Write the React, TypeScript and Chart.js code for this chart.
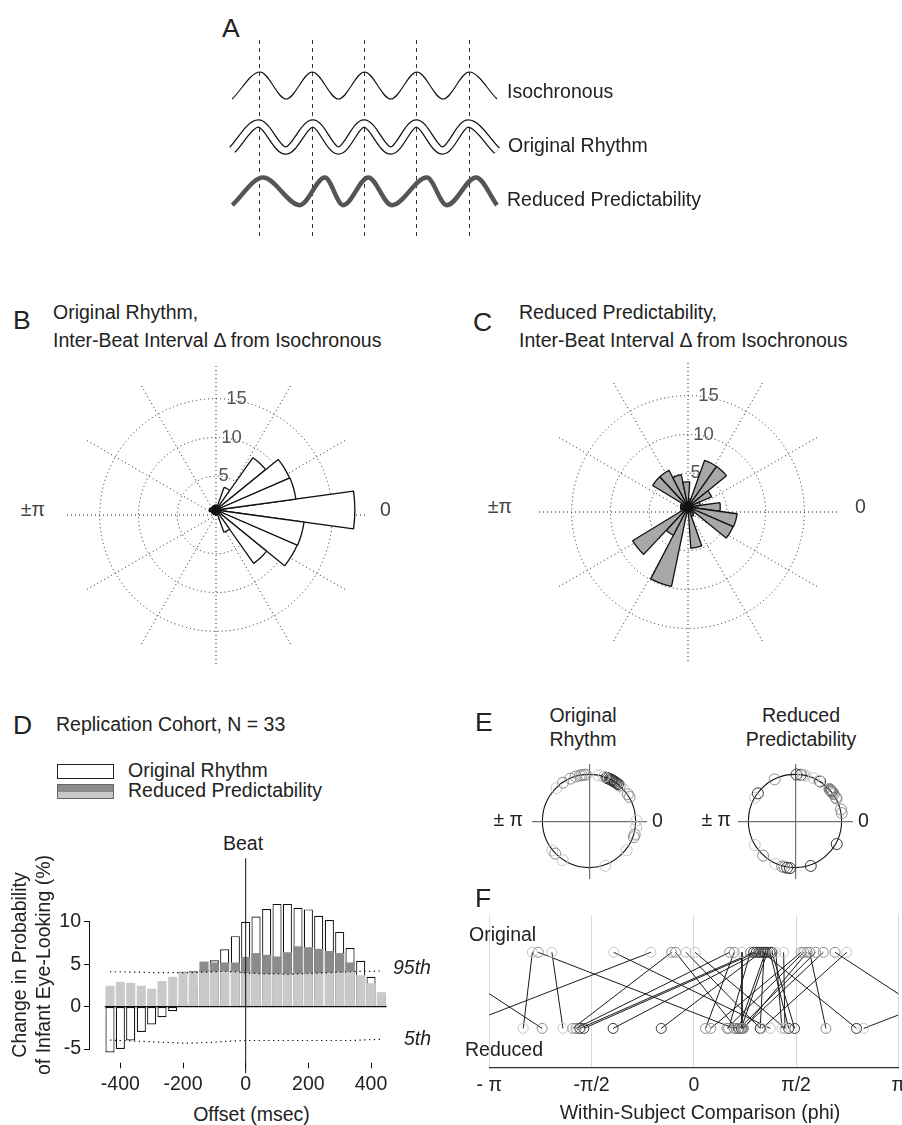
import React, { useEffect, useRef } from 'react';
import { Chart, registerables } from 'chart.js';

Chart.register(...registerables);

const FONT = '"Liberation Sans", Arial, Helvetica, sans-serif';
Chart.defaults.font.family = FONT;
Chart.defaults.color = '#222';

// ===== Panel A : schematic beat timing (time in beats, level = wave height) =====
const beatTimes = [1, 2, 3, 4, 5];
const isoTimes = [0.47, 1.0, 1.5, 2.0, 2.5, 3.0, 3.5, 4.0, 4.5, 5.0, 5.53];
const isoLevels = [0, 1, 0, 1, 0, 1, 0, 1, 0, 1, 0];
const origTimes = [0.47, 0.97, 1.49, 2.01, 2.5, 2.99, 3.5, 3.99, 4.49, 4.98, 5.53];
const origLevels = [-1.88, -0.91, -1.91, -0.91, -1.91, -0.91, -1.91, -0.91, -1.91, -0.91, -1.91];
const redTimes = [0.47, 1.06, 1.76, 2.24, 2.59, 3.07, 3.52, 4.19, 4.57, 5.13, 5.53];
const redLevels = [-3.93, -2.91, -3.93, -2.91, -3.93, -2.91, -3.93, -2.91, -3.93, -2.91, -3.93];

// ===== Panels B, C : rose histograms (bin k centred at k*360/23 deg, counter-clockwise) =====
const roseOriginal = [16.8, 9.75, 9.7, 7.75, 2.9, 0.6, 0.6, 0.6, 0.6, 0.6, 0.6, 0.8, 0.8, 0.6, 0.6, 0.6, 0.6, 0.6, 0.6, 2.85, 7.9, 10.7, 10.75];
const roseReduced = [3.9, 1.5, 3.1, 6.0, 6.0, 1.0, 3.05, 4.0, 5.0, 5.0, 0.9, 0.9, 0.9, 0.9, 7.85, 3.85, 9.8, 0.8, 5.0, 1.2, 1.0, 5.95, 6.0];
const roseRings = [0, 5, 10, 15];
const roseMax = 19.6;
const roseSpokes = ['', '', '', '', '', '', '', '', '', '', '', ''];

// ===== Panel D : change in probability of eye-looking (%) =====
const offsetsMs = [-433, -400, -367, -333, -300, -267, -233, -200, -167, -133, -100, -67, -33, 0, 33, 67, 100, 133, 167, 200, 233, 267, 300, 333, 367, 400, 433];
const origChange = [-5.4, -5.0, -4.0, -3.0, -2.1, -1.25, -0.55, 0.4, 2.3, 4.4, 5.45, 6.75, 8.3, 10.0, 10.6, 11.5, 12.1, 12.1, 11.65, 11.45, 10.7, 10.2, 8.8, 6.9, 5.4, 3.5, 1.2];
const reducedChange = [2.45, 2.9, 2.8, 2.45, 2.1, 3.0, 3.5, 4.1, 4.2, 5.3, 5.2, 5.2, 5.2, 5.85, 6.3, 6.1, 5.9, 6.4, 7.1, 7.0, 6.8, 6.55, 6.3, 5.2, 3.7, 2.75, 1.7];
const pct95 = [4.1, 4.1, 4.05, 4.05, 4.0, 4.0, 4.0, 4.0, 4.0, 4.05, 4.1, 4.15, 4.1, 3.95, 3.9, 3.85, 3.85, 3.8, 3.85, 3.9, 3.95, 4.0, 4.05, 4.1, 4.15, 4.15, 4.2];
const pct5 = [-3.95, -4.0, -4.05, -4.1, -4.15, -4.2, -4.25, -4.3, -4.3, -4.25, -4.2, -4.1, -4.05, -4.0, -4.0, -4.0, -4.0, -4.0, -4.0, -4.0, -4.0, -4.0, -4.0, -4.0, -3.95, -3.9, -3.85];
const dXTicks = [-400, -200, 0, 200, 400];
const dYTicks = [-5, 0, 5, 10];
const zeroLineSpan = [-450, 450];
const beatSpan = [-7.86, 17.47];

// ===== Panels E, F : within-subject phases (rad) =====
const origPhi = [-2.48, -2.39, -2.18, -1.23, -0.66, -0.34, -0.28, -0.12, 0.02, 0.55, 0.62, 0.74, 0.87, 0.92, 0.96, 1.0, 1.03, 1.06, 1.08, 1.1, 1.13, 1.17, 1.2, 1.26, 1.38, 1.65, 1.69, 1.74, 1.78, 1.87, 1.99, 2.17, 2.35];
const redPhi = [-2.62, 0.62, -2.01, 1.175, 2.61, -1.86, 0.65, 1.02, 1.405, -1.81, 0.18, 0.74, 0.535, -1.75, -1.69, -1.24, -0.5, 2.5, 1.02, 0.69, 0.73, 1.457, 1.549, 1.354, 1.4, 0.26, 0.51, 0.765, 2.03, 0.7, 0.75, -2.33, 1.047];
const subjectShade = ['L', 'M', 'L', 'L', 'L', 'M', 'M', 'L', 'L', 'M', 'M', 'L', 'M', 'D', 'D', 'D', 'D', 'D', 'D', 'D', 'D', 'D', 'D', 'L', 'L', 'M', 'M', 'M', 'M', 'M', 'M', 'M', 'L'];
const phiTicks = [-Math.PI, -Math.PI / 2, 0, Math.PI / 2, Math.PI];
const phiTickLabels = ['- π', '-π/2', '0', 'π/2', 'π'];

const SHADE: Record<string, string> = { L: '#c4c4c4', M: '#8c8c8c', D: '#363636' };

const base: any = {
  animation: false,
  responsive: false,
  events: [],
  plugins: { legend: { display: false }, tooltip: { enabled: false } },
};

function ChartBox({ x, y, w, h, make }: { x: number; y: number; w: number; h: number; make: () => any }) {
  const ref = useRef<HTMLCanvasElement>(null);
  useEffect(() => {
    const chart = new Chart(ref.current as HTMLCanvasElement, make());
    return () => chart.destroy();
  }, []);
  return (
    <div style={{ position: 'absolute', left: x, top: y, width: w, height: h }}>
      <canvas ref={ref} width={w} height={h} style={{ width: w, height: h, display: 'block' }} />
    </div>
  );
}

function T({ x, y, s = 19.5, a = 'left', children, style }: any) {
  const tx = a === 'left' ? '0' : a === 'center' ? '-50%' : '-100%';
  return (
    <div
      style={{
        position: 'absolute', left: x, top: y, fontSize: s, lineHeight: 1, whiteSpace: 'pre',
        transform: `translate(${tx}, -50%)`, color: '#222', fontFamily: FONT, ...style,
      }}
    >
      {children}
    </div>
  );
}

// ---------- chart factories ----------
const pts = (xs: number[], ys: number[]) => xs.map((x, i) => ({ x, y: ys[i] }));

function makeA() {
  const wave = (data: any, color: string, width: number) => ({
    type: 'line', data, borderColor: color, borderWidth: width, pointRadius: 0,
    cubicInterpolationMode: 'monotone', fill: false, clip: false, borderCapStyle: 'butt',
  });
  return {
    type: 'line',
    data: {
      datasets: [
        wave(pts(redTimes, redLevels), '#555', 4.5),
        wave(pts(origTimes, origLevels), '#fff', 6),
        wave(pts(origTimes, origLevels), '#111', 8.5),
        wave(pts(isoTimes, isoLevels), '#111', 1.1),
      ],
    },
    options: {
      ...base,
      layout: { padding: 10, autoPadding: false },
      scales: {
        x: {
          type: 'linear', min: 0.465, max: 5.55, offset: false,
          afterBuildTicks: (s: any) => { s.ticks = beatTimes.map((v) => ({ value: v })); },
          ticks: { display: false },
          grid: { color: '#333', lineWidth: 1, drawTicks: false },
          border: { display: false, dash: [4, 4] },
        },
        y: { type: 'linear', min: -5.11, max: 2.185, display: false },
      },
    },
  };
}

function makeRoseGrid() {
  return {
    type: 'polarArea',
    data: { labels: roseSpokes, datasets: [{ data: roseSpokes.map(() => 0), borderWidth: 0, backgroundColor: 'rgba(0,0,0,0)' }] },
    options: {
      ...base,
      layout: { padding: 0, autoPadding: false },
      scales: {
        r: {
          min: 0, max: roseMax, startAngle: 0,
          afterBuildTicks: (s: any) => { s.ticks = roseRings.map((v) => ({ value: v })); },
          ticks: {
            display: true, showLabelBackdrop: false, backdropPadding: 0, color: '#555',
            font: { size: 18.5 },
            callback: (v: number) => (v === 0 ? '' : ' '.repeat(Math.round(v * 0.55)) + v),
          },
          grid: { color: '#222', lineWidth: 1, circular: true },
          border: { dash: [1, 3] },
          angleLines: { display: true, color: '#222', lineWidth: 1, borderDash: [1, 3] },
          pointLabels: { display: false },
        },
      },
    },
  };
}

function makeRoseData(counts: number[], fill: string) {
  const n = counts.length;
  const clockwise = counts.map((_, j) => counts[(n - j) % n]);
  return {
    type: 'polarArea',
    data: {
      labels: counts.map(() => ''),
      datasets: [{ data: clockwise, backgroundColor: fill, borderColor: '#111', borderWidth: 1.3 }],
    },
    options: {
      ...base,
      layout: { padding: 0, autoPadding: false },
      scales: { r: { display: false, min: 0, max: roseMax, startAngle: 90 - 180 / n } },
    },
  };
}

function makeD() {
  return {
    type: 'bar',
    data: {
      datasets: [
        { type: 'line', data: pts(offsetsMs, pct95), borderColor: '#111', borderWidth: 1.2, borderDash: [1.3, 3.5], pointRadius: 0, clip: false },
        { type: 'line', data: pts(offsetsMs, pct5), borderColor: '#111', borderWidth: 1.2, borderDash: [1.3, 3.5], pointRadius: 0, clip: false },
        { type: 'line', data: zeroLineSpan.map((x) => ({ x, y: 0 })), borderColor: '#111', borderWidth: 1.3, pointRadius: 0, clip: false },
        { type: 'line', data: beatSpan.map((y) => ({ x: 0, y })), borderColor: '#111', borderWidth: 1, pointRadius: 0, clip: false },
        {
          data: offsetsMs.map((x, i) => ({ x, y: reducedChange[i] > pct95[i] ? [pct95[i], reducedChange[i]] : null })),
          backgroundColor: '#8b8b8b', clip: false,
        },
        {
          data: offsetsMs.map((x, i) => ({ x, y: Math.min(reducedChange[i], pct95[i]) })),
          backgroundColor: '#c9c9c9', clip: false,
        },
        {
          data: pts(offsetsMs, origChange), backgroundColor: '#fff', borderColor: '#111', borderWidth: 1.2,
          borderSkipped: false, clip: false,
        },
      ],
    },
    options: {
      ...base,
      layout: { padding: { left: 0, top: 91.7, right: 23.3, bottom: 0 }, autoPadding: false },
      datasets: { bar: { barPercentage: 0.88, categoryPercentage: 1, grouped: false } },
      scales: {
        x: {
          type: 'linear', min: -500, max: 450, offset: false,
          afterBuildTicks: (s: any) => { s.ticks = dXTicks.map((v) => ({ value: v })); },
          afterFit: (s: any) => { s.height = 51; },
          grid: { drawOnChartArea: false, drawTicks: true, tickLength: 19.3, tickColor: '#111', tickWidth: 1, tickBorderDash: [0, 13.7, 5.6, 100], offset: false },
          border: { display: false },
          ticks: { color: '#222', font: { size: 19.5 }, padding: 5, maxRotation: 0, autoSkip: false },
        },
        y: {
          type: 'linear', min: -5, max: 10,
          afterBuildTicks: (s: any) => { s.ticks = dYTicks.map((v) => ({ value: v })); },
          afterFit: (s: any) => { s.width = 59; },
          grid: { drawOnChartArea: false, tickLength: 5, tickColor: '#111' },
          border: { display: true, color: '#111', width: 1 },
          ticks: { color: '#222', font: { size: 19.5 }, padding: 3 },
        },
      },
    },
  };
}

const E_LIM = 57.5 / 47;

function makeECircle() {
  return {
    type: 'polarArea',
    data: { labels: [''], datasets: [{ data: [0], borderWidth: 0, backgroundColor: 'rgba(0,0,0,0)' }] },
    options: {
      ...base,
      layout: { padding: 0, autoPadding: false },
      scales: {
        r: {
          min: 0, max: E_LIM,
          afterBuildTicks: (s: any) => { s.ticks = [0, 1].map((v) => ({ value: v })); },
          ticks: { display: false },
          grid: { color: '#111', lineWidth: 1.1, circular: true },
          border: { dash: [] },
          angleLines: { display: false },
          pointLabels: { display: false },
        },
      },
    },
  };
}

function makeEPoints(phis: number[]) {
  const axis = {
    type: 'linear', min: -E_LIM, max: E_LIM, offset: false,
    afterBuildTicks: (s: any) => { s.ticks = [{ value: 0 }]; },
    ticks: { display: false },
    grid: { color: '#707070', lineWidth: 1.2, drawTicks: false },
    border: { display: false },
  };
  return {
    type: 'scatter',
    data: {
      datasets: [{
        data: phis.map((p) => ({ x: Math.cos(p), y: Math.sin(p) })),
        pointRadius: 5.5, pointBorderWidth: 1,
        pointBorderColor: subjectShade.map((s) => SHADE[s]),
        pointBackgroundColor: 'rgba(0,0,0,0)',
      }],
    },
    options: { ...base, layout: { padding: 0, autoPadding: false }, scales: { x: axis, y: axis } },
  };
}

function makeF() {
  const segs: any[] = [];
  origPhi.forEach((o, i) => {
    const r = redPhi[i];
    const d = r - o;
    const shift = d > Math.PI ? -2 * Math.PI : d < -Math.PI ? 2 * Math.PI : 0;
    segs.push([o, r + shift]);
    if (shift !== 0) segs.push([o - shift, r]);
  });
  const shades = subjectShade.map((s) => SHADE[s]);
  return {
    type: 'scatter',
    data: {
      datasets: [
        {
          data: origPhi.map((x) => ({ x, y: 1 })), pointRadius: 5, pointBorderWidth: 1,
          pointBorderColor: shades, pointBackgroundColor: 'rgba(0,0,0,0)', showLine: false,
        },
        {
          data: redPhi.map((x) => ({ x, y: 0 })), pointRadius: 5, pointBorderWidth: 1,
          pointBorderColor: shades, pointBackgroundColor: 'rgba(0,0,0,0)', showLine: false,
        },
        ...segs.map((s) => ({
          data: [{ x: s[0], y: 1 }, { x: s[1], y: 0 }], showLine: true, pointRadius: 0,
          borderColor: '#1a1a1a', borderWidth: 1, fill: false,
        })),
      ],
    },
    options: {
      ...base,
      layout: { padding: { left: 19.3, right: 16.7, top: 10, bottom: 0 }, autoPadding: false },
      scales: {
        x: {
          type: 'linear', min: -Math.PI, max: Math.PI, offset: false,
          afterBuildTicks: (s: any) => { s.ticks = phiTicks.map((v) => ({ value: v })); },
          afterFit: (s: any) => { s.height = 37; },
          ticks: {
            color: '#222', font: { size: 19.5 }, padding: 5.6, maxRotation: 0, autoSkip: false,
            callback: (_v: number, idx: number) => phiTickLabels[idx],
          },
          grid: { color: '#d8d8d8', lineWidth: 1, drawTicks: false },
          border: { display: true, color: '#333', width: 1.2 },
        },
        y: { type: 'linear', min: -0.52, max: 1.49, display: false },
      },
    },
  };
}

export default function App() {
  return (
    <div
      style={{
        position: 'absolute', left: 0, top: 0, width: 902, height: 1125, background: '#fff',
        overflow: 'hidden', fontFamily: FONT, color: '#222',
      }}
    >
      {/* ---- A ---- */}
      <T x={222} y={27.5} s={26.5}>A</T>
      <ChartBox x={222} y={30} w={286} h={217} make={makeA} />
      <T x={507} y={92}>Isochronous</T>
      <T x={508} y={146}>Original Rhythm</T>
      <T x={507} y={200}>Reduced Predictability</T>

      {/* ---- B ---- */}
      <T x={13} y={320} s={26.5}>B</T>
      <T x={53} y={312.5}>Original Rhythm,</T>
      <T x={53} y={340.5}>Inter-Beat Interval Δ from Isochronous</T>
      <ChartBox x={54} y={348} w={324} h={334} make={makeRoseGrid} />
      <ChartBox x={54} y={348} w={324} h={324} make={() => makeRoseData(roseOriginal, '#ffffff')} />
      <T x={45} y={510} a="right" style={{ color: '#444' }}>±π</T>
      <T x={380} y={510} style={{ color: '#444' }}>0</T>

      {/* ---- C ---- */}
      <T x={473} y={322} s={26.5}>C</T>
      <T x={519} y={312.5}>Reduced Predictability,</T>
      <T x={519} y={340.5}>Inter-Beat Interval Δ from Isochronous</T>
      <ChartBox x={526} y={345} w={324} h={334} make={makeRoseGrid} />
      <ChartBox x={526} y={345} w={324} h={324} make={() => makeRoseData(roseReduced, '#a8a8a8')} />
      <T x={512} y={507} a="right" style={{ color: '#444' }}>±π</T>
      <T x={855} y={507} style={{ color: '#444' }}>0</T>

      {/* ---- D ---- */}
      <T x={13} y={725} s={26.5}>D</T>
      <T x={56} y={724.5}>Replication Cohort, N = 33</T>
      <div style={{ position: 'absolute', left: 57, top: 764, width: 55, height: 13, border: '1px solid #222', background: '#fff' }} />
      <T x={128} y={771}>Original Rhythm</T>
      <div
        style={{
          position: 'absolute', left: 57, top: 784, width: 55, height: 13, border: '1px solid #666',
          background: 'linear-gradient(#8b8b8b 0%, #8b8b8b 55%, #c9c9c9 55%, #c9c9c9 100%)',
        }}
      />
      <T x={128} y={791}>Reduced Predictability</T>
      <T x={243} y={844} a="center">Beat</T>
      <ChartBox x={30} y={830} w={380} h={270} make={makeD} />
      <T x={19.5} y={965} a="center" style={{ transform: 'translate(-50%, -50%) rotate(-90deg)' }}>Change in Probability</T>
      <T x={44} y={965} a="center" style={{ transform: 'translate(-50%, -50%) rotate(-90deg)' }}>of Infant Eye-Looking (%)</T>
      <T x={393} y={968} style={{ fontStyle: 'italic' }}>95th</T>
      <T x={404} y={1039} style={{ fontStyle: 'italic' }}>5th</T>
      <T x={251.5} y={1115} a="center">Offset (msec)</T>

      {/* ---- E ---- */}
      <T x={475} y={722} s={26.5}>E</T>
      <T x={583} y={715.5} a="center">Original</T>
      <T x={583} y={740} a="center">Rhythm</T>
      <T x={801} y={715.5} a="center">Reduced</T>
      <T x={801} y={740} a="center">Predictability</T>
      <ChartBox x={532} y={764} w={115} h={115} make={makeECircle} />
      <ChartBox x={532} y={764} w={115} h={115} make={() => makeEPoints(origPhi)} />
      <ChartBox x={738} y={764} w={115} h={115} make={makeECircle} />
      <ChartBox x={738} y={764} w={115} h={115} make={() => makeEPoints(redPhi)} />
      <T x={523} y={820} a="right">± π</T>
      <T x={652} y={821}>0</T>
      <T x={731} y={820} a="right">± π</T>
      <T x={858} y={821}>0</T>

      {/* ---- F ---- */}
      <T x={475} y={897.5} s={26.5}>F</T>
      <ChartBox x={470} y={905} w={445} h={200} make={makeF} />
      <T x={469} y={935}>Original</T>
      <T x={465} y={1050}>Reduced</T>
      <T x={700} y={1113} a="center">Within-Subject Comparison (phi)</T>
    </div>
  );
}
